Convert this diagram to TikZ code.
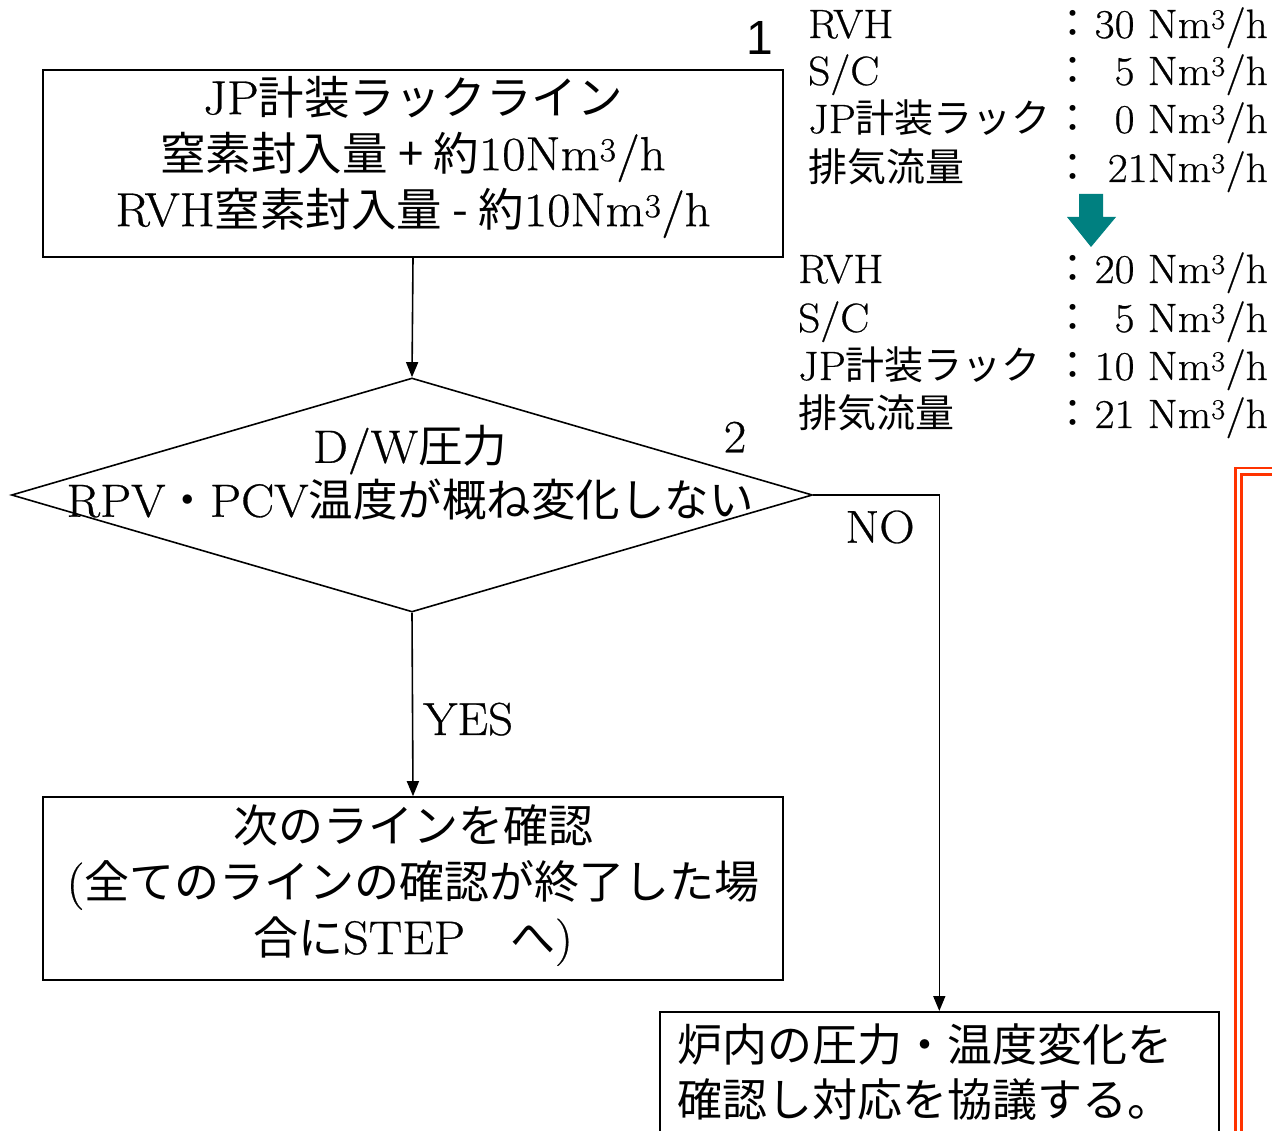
\documentclass[tikz,border=0pt]{standalone}
\usepackage{fontspec}
\setmainfont{Latin Modern Roman}[Scale=1.05, FakeStretch=1.06, FakeBold=0.6]
\newfontfamily\jp{Noto Sans CJK JP}
\newfontfamily\arialfont{Liberation Sans}
\usetikzlibrary{shapes.geometric,arrows.meta}
\definecolor{redline}{HTML}{FF3300}
\definecolor{tealarrow}{HTML}{008080}
\newcommand{\nmh}{Nm\textsuperscript{3}/h}
\begin{document}
\begin{tikzpicture}[x=1pt,y=-1pt,
  frame/.style={draw, line width=1.6pt, inner sep=0pt},
  flow/.style={-{Triangle[length=15pt,width=12pt]}, line width=1.6pt},
  big/.style={font=\fontsize{45}{56}\selectfont, inner sep=0pt, align=center},
  info/.style={font=\fontsize{39}{48}\selectfont, inner sep=0pt},
  redframe/.style={draw=redline, line width=2.6pt}
]
\useasboundingbox (0,0) rectangle (1272,1131);
\clip (0,0) rectangle (1272,1131);

% boxes
\node[frame, minimum width=740, minimum height=187] (box1) at (413,163.5) {};
\node[big, font=\fontsize{45.5}{56}\selectfont] (box1text) at (413,157) {JP{\jp 計装ラックライン}\\{\jp 窒素封入量 + 約}10\nmh\\RVH{\jp 窒素封入量 - 約}10\nmh};
\node[font=\arialfont\fontsize{48}{52}\selectfont, inner sep=0pt] (lab1) at (760,38) {1};

\node[frame, diamond, minimum width=801, minimum height=234] (dec) at (412,495) {};
\node[big, font=\fontsize{44.5}{54}\selectfont] (dectext) at (410,473) {D/W{\jp 圧力}\\RPV{\jp ・}PCV{\jp 温度が概ね変化しない}};
\node[font=\fontsize{44}{48}\selectfont, inner sep=0pt] (lab2) at (735,437) {2};

\node[frame, minimum width=740, minimum height=183] (box3) at (413,888.5) {};
\node[big] (box3text) at (413,885) {{\jp 次のラインを確認}\\({\jp 全てのラインの確認が終了した場}\\{\jp 合に}STEP{\jp 　へ})};

\node[frame, anchor=north west, minimum width=559, minimum height=160] (box4) at (659,1011) {};
\node[font=\jp\fontsize{45}{55}\selectfont, inner sep=0pt, align=left, anchor=west] (box4text) at (677,1072) {炉内の圧力・温度変化を\\確認し対応を協議する。};

% connectors
\draw[flow] (box1.south) -- (dec.north);
\draw[flow] (dec.south) -- node[pos=0.58, right=10pt, font=\fontsize{44}{48}\selectfont, inner sep=0pt] (yes) {YES} (box3.north);
\draw[flow] (dec.east) -| (box4.north);
\node[font=\fontsize{44}{48}\selectfont, inner sep=0pt] (no) at (880,527) {NO};

% right information block
\foreach \lx/\y/\lab/\val [count=\i] in {
  808/38/RVH/30 \nmh,
  808/85/S\slash C/5 \nmh,
  808/133/JP{\jp 計装ラック}/0 \nmh,
  808/182/{\jp 排気流量}/21\nmh,
  798/283/RVH/20 \nmh,
  798/332/S\slash C/5 \nmh,
  798/380/JP{\jp 計装ラック}/10 \nmh,
  798/428/{\jp 排気流量}/21 \nmh}{
  \node[info, anchor=base west] (lbl\i) at (\lx,\y) {\lab};
  \node[info, anchor=base] (col\i) at (1073,\y) {\jp ：};
  \node[info, anchor=base east] (val\i) at (1268,\y) {\val};
}
\fill[tealarrow] (1079,194) -- (1103,194) -- (1103,217) -- (1116,217) -- (1091,247) -- (1067,217) -- (1079,217) -- cycle;

% red double frame
\draw[redframe] (1235.5,1140) -- (1235.5,468) -- (1280,468);
\draw[redframe] (1241.5,1140) -- (1241.5,474.5) -- (1280,474.5);
\end{tikzpicture}
\end{document}
